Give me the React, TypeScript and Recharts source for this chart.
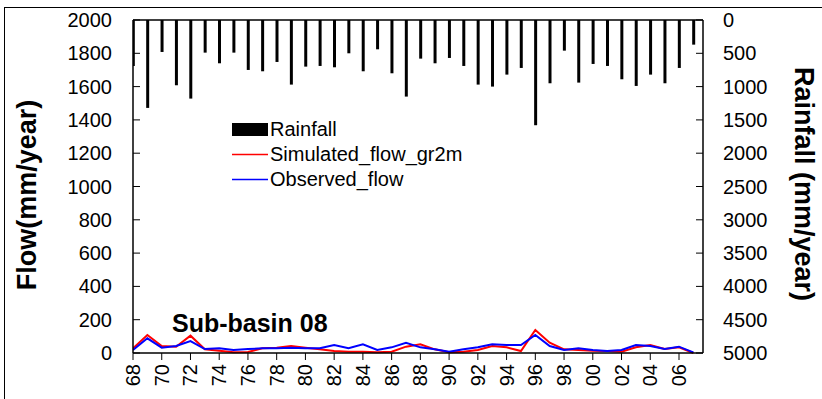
import { ComposedChart, Bar, Line, XAxis, YAxis, ReferenceLine, Legend } from 'recharts'

// Years 1968-2007 (x positions are the index into this list)
const years = [
  '68', '69', '70', '71', '72', '73', '74', '75', '76', '77',
  '78', '79', '80', '81', '82', '83', '84', '85', '86', '87',
  '88', '89', '90', '91', '92', '93', '94', '95', '96', '97',
  '98', '99', '00', '01', '02', '03', '04', '05', '06', '07',
]

const rainfall = [
  690, 1320, 480, 980, 1180, 490, 650, 490, 750, 770,
  630, 970, 700, 690, 710, 500, 770, 440, 800, 1150,
  580, 650, 570, 690, 970, 1000, 820, 720, 1580, 950,
  460, 940, 660, 690, 890, 990, 820, 950, 720, 370,
]

const simulatedFlow = [
  28, 108, 42, 38, 104, 22, 14, 4, 6, 28,
  32, 42, 32, 22, 12, 8, 8, 4, 8, 38,
  52, 22, 4, 8, 18, 42, 34, 12, 138, 62,
  22, 18, 14, 12, 8, 34, 48, 24, 34, 0,
]

const observedFlow = [
  18, 88, 32, 42, 72, 24, 28, 18, 24, 28,
  28, 32, 28, 28, 48, 28, 52, 18, 34, 62,
  34, 22, 8, 22, 34, 52, 48, 48, 108, 42,
  18, 28, 18, 12, 18, 48, 42, 24, 38, 4,
]

const seriesNames = ['Rainfall', 'Simulated_flow_gr2m', 'Observed_flow']

const flowTicks = [0, 200, 400, 600, 800, 1000, 1200, 1400, 1600, 1800, 2000]
const rainTicks = [0, 500, 1000, 1500, 2000, 2500, 3000, 3500, 4000, 4500, 5000]
const yearTicks = [0, 2, 4, 6, 8, 10, 12, 14, 16, 18, 20, 22, 24, 26, 28, 30, 32, 34, 36, 38]

const FONT = '"Liberation Sans", Arial, sans-serif'

const data = years.map((year, i) => ({
  i,
  year,
  rainfall: rainfall[i],
  simulated: simulatedFlow[i],
  observed: observedFlow[i],
}))

function LeftTick(props: any) {
  const { x, y, payload } = props
  return (
    <g>
      <line x1={x + 21} x2={x + 28} y1={y} y2={y} stroke="#000" strokeWidth={1} />
      <text x={x} y={y} textAnchor="end" dominantBaseline="central" fontFamily={FONT} fontSize={20} fill="#000">
        {payload.value}
      </text>
    </g>
  )
}

function RightTick(props: any) {
  const { x, y, payload } = props
  return (
    <g>
      <line x1={x - 20} x2={x - 27} y1={y} y2={y} stroke="#000" strokeWidth={1} />
      <text x={x} y={y} textAnchor="start" dominantBaseline="central" fontFamily={FONT} fontSize={20} fill="#000">
        {payload.value}
      </text>
    </g>
  )
}

function YearTick(props: any) {
  const { x, y, payload } = props
  return (
    <text
      x={x}
      y={y}
      transform={`rotate(-90 ${x} ${y})`}
      textAnchor="end"
      dominantBaseline="central"
      fontFamily={FONT}
      fontSize={20}
      fill="#000"
    >
      {years[payload.value]}
    </text>
  )
}

function LegendBox({ payload }: any) {
  const items = [...(payload || [])].sort(
    (a: any, b: any) => seriesNames.indexOf(a.value) - seriesNames.indexOf(b.value)
  )
  return (
    <div style={{ fontFamily: FONT, fontSize: 20, color: '#000', lineHeight: '25px' }}>
      {items.map((p: any) => (
        <div key={p.value} style={{ display: 'flex', alignItems: 'center', height: 25 }}>
          <svg width={38} height={25} style={{ display: 'block' }}>
            {p.type === 'rect' ? (
              <rect x={0} y={6} width={36} height={13} fill="#000" />
            ) : (
              <line x1={0} x2={36} y1={12.5} y2={12.5} stroke={p.color} strokeWidth={1.5} />
            )}
          </svg>
          <span>{p.value}</span>
        </div>
      ))}
    </div>
  )
}

export default function App() {
  return (
    <div style={{ position: 'absolute', left: 0, top: 0, width: 822, height: 399, background: '#fff', overflow: 'hidden' }}>
      <div
        style={{
          position: 'absolute',
          left: 4,
          top: 7,
          width: 840,
          height: 420,
          borderLeft: '1px solid #000',
          borderTop: '1px solid #000',
        }}
      />
      <ComposedChart
        width={822}
        height={399}
        data={data}
        margin={{ top: 20, right: 0, bottom: 0, left: 0 }}
        style={{ position: 'absolute', left: 0, top: 0 }}
      >
        <XAxis
          dataKey="i"
          type="number"
          domain={[0, 39.67]}
          allowDataOverflow
          ticks={yearTicks}
          interval={0}
          height={46}
          tickSize={7}
          tickMargin={4}
          tick={<YearTick />}
          axisLine={{ stroke: '#000', strokeWidth: 1.5 }}
          tickLine={{ stroke: '#000' }}
        />
        <YAxis
          yAxisId="left"
          domain={[0, 2000]}
          ticks={flowTicks}
          interval={0}
          width={133}
          tickSize={0}
          tickMargin={21}
          tick={<LeftTick />}
          axisLine={{ stroke: '#000', strokeWidth: 1.5 }}
          tickLine={false}
        />
        <YAxis
          yAxisId="right"
          orientation="right"
          domain={[0, 5000]}
          reversed
          ticks={rainTicks}
          interval={0}
          width={119}
          tickSize={0}
          tickMargin={20}
          tick={<RightTick />}
          axisLine={{ stroke: '#000', strokeWidth: 1.5 }}
          tickLine={false}
        />
        <ReferenceLine yAxisId="right" y={0} stroke="#000" strokeWidth={1.5} />
        <Bar
          yAxisId="right"
          dataKey="rainfall"
          name={seriesNames[0]}
          fill="#000"
          barSize={3}
          isAnimationActive={false}
        />
        <Line
          yAxisId="left"
          type="linear"
          dataKey="simulated"
          name={seriesNames[1]}
          stroke="#ff0000"
          strokeWidth={2}
          dot={false}
          isAnimationActive={false}
        />
        <Line
          yAxisId="left"
          type="linear"
          dataKey="observed"
          name={seriesNames[2]}
          stroke="#0000ff"
          strokeWidth={2}
          dot={false}
          isAnimationActive={false}
        />
        <Legend
          layout="horizontal"
          verticalAlign="middle"
          align="center"
          content={<LegendBox />}
          wrapperStyle={{ left: 232, top: 117, width: 'auto' }}
        />
      </ComposedChart>
      <div
        style={{
          position: 'absolute',
          left: 27,
          top: 195,
          transform: 'translate(-50%, -50%) rotate(-90deg)',
          whiteSpace: 'nowrap',
          fontFamily: FONT,
          fontWeight: 'bold',
          fontSize: 27,
          lineHeight: 1,
        }}
      >
        Flow(mm/year)
      </div>
      <div
        style={{
          position: 'absolute',
          left: 803,
          top: 184,
          transform: 'translate(-50%, -50%) rotate(90deg)',
          whiteSpace: 'nowrap',
          fontFamily: FONT,
          fontWeight: 'bold',
          fontSize: 27,
          lineHeight: 1,
        }}
      >
        Rainfall (mm/year)
      </div>
      <div
        style={{
          position: 'absolute',
          left: 172,
          top: 323,
          transform: 'translateY(-50%)',
          whiteSpace: 'nowrap',
          fontFamily: FONT,
          fontWeight: 'bold',
          fontSize: 25,
          lineHeight: 1,
        }}
      >
        Sub-basin 08
      </div>
    </div>
  )
}
